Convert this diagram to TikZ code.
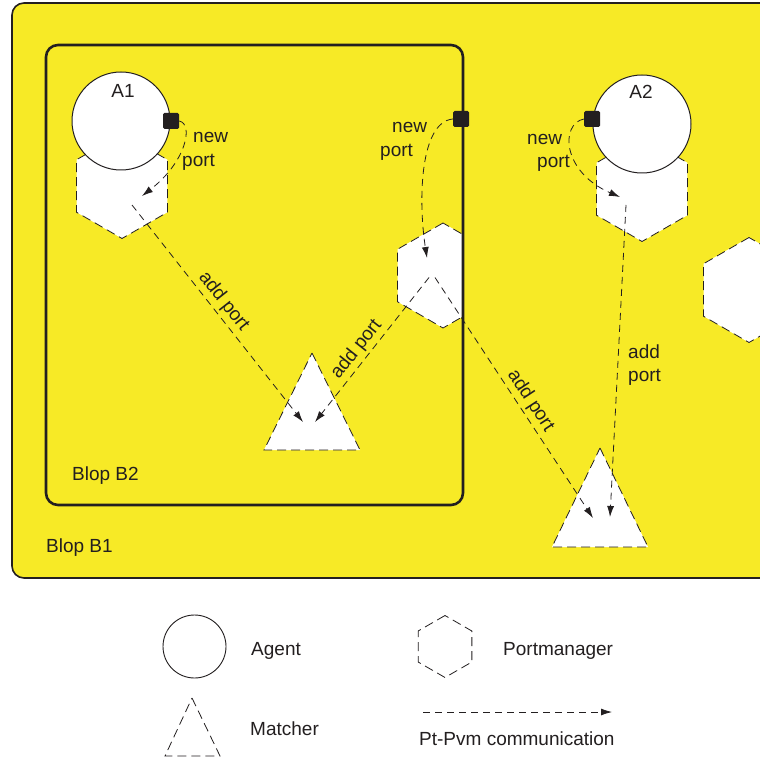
\documentclass[tikz,border=0pt]{standalone}
\usepackage{fontspec}
\setmainfont{Liberation Sans}
\usetikzlibrary{shapes.geometric,arrows.meta,calc}
\definecolor{blopyellow}{RGB}{247,234,38}
\definecolor{ink}{RGB}{35,31,32}
\begin{document}
\begin{tikzpicture}[x=1pt,y=-1pt,
  font=\fontsize{19}{22}\selectfont,
  agent/.style={circle, draw=ink, fill=white, line width=1pt, minimum size=98pt, inner sep=0pt},
  pm/.style={regular polygon, regular polygon sides=6, shape border rotate=30, draw=ink, fill=white, line width=0.8pt, dash pattern=on 9pt off 5pt, minimum size=105pt, inner sep=0pt},
  pmlegend/.style={regular polygon, regular polygon sides=6, shape border rotate=30, draw=ink, line width=0.8pt, dash pattern=on 9pt off 5pt, minimum size=62pt, inner sep=0pt},
  portsq/.style={rectangle, fill=ink, minimum size=16pt, inner sep=0pt, rounded corners=1.5pt},
  matcher/.style={draw=ink, fill=white, line width=0.8pt, dash pattern=on 9pt off 5pt},
  conn/.style={draw=ink, line width=0.8pt, dash pattern=on 7pt off 5pt, -{Latex[length=11pt,width=7pt]}},
  lbl/.style={anchor=base west, inner sep=0pt, text=ink},
  blop/.style={draw=ink, rounded corners=12pt}
]
\clip (0,0) rectangle (760,759);
\fill[white] (0,0) rectangle (760,759);

% Blop B1
\path[blop, fill=blopyellow, line width=1.6pt] (12,3) rectangle (800,578);

% portmanagers
\node[pm] (h1) at (122,186) {};
\node[pm] (h2) at (642,189) {};
\node[pm] (h4) at (749,290) {};
\begin{scope}
  \clip (0,0) rectangle (463,759);
  \node[pm] (h3) at (443,275.5) {};
\end{scope}

% Blop B2
\path[blop, line width=2.6pt] (46,45) rectangle (463,505);

% matchers
\path[matcher] (312,353) -- (360,450) -- (264,450) -- cycle;
\path[matcher] (600,448) -- (648,547) -- (552,547) -- cycle;
\coordinate (m1a) at (303,422);
\coordinate (m1b) at (315,422);
\coordinate (m2a) at (593,518);
\coordinate (m2b) at (610,517);

% agents
\node[agent] (a1) at (121,121) {};
\node[agent] (a2) at (642,124) {};
\node[lbl, anchor=base] (a1t) at (123,98) {A1};
\node[lbl, anchor=base] (a2t) at (641,99) {A2};

% ports
\node[portsq] (p1) at (171,121) {};
\node[portsq] (p2) at (461,119) {};
\node[portsq] (p3) at (592,119) {};

% arrow tips in portmanagers
\coordinate (t1) at (142,196);
\coordinate (t2) at (427,258);
\coordinate (t3) at (620,197);

% communications
\draw[conn] (p1.east) .. controls (194,124) and (186,162) .. (t1);
\draw[conn] (p2.west) .. controls (420,122) and (418,200) .. (t2);
\draw[conn] (p3.west) .. controls (560,124) and (562,172) .. (t3);

\draw[conn] ($(h1.center)+(10,19)$) -- node[pos=0.48, sloped, above, inner sep=3pt, text=ink] (l1) {add port} (m1a);
\draw[conn] ($(h3.center)+(-14,2)$) -- node[pos=0.55, sloped, above, inner sep=3pt, text=ink] (l2) {add port} (m1b);
\draw[conn] ($(h3.center)+(-8,2)$) -- node[pos=0.54, sloped, above, inner sep=3pt, text=ink] (l3) {add port} (m2a);
\draw[conn] ($(h2.center)+(-16,16)$) -- (m2b);
\node[lbl] (l4a) at (628,358) {add};
\node[lbl] (l4b) at (628,381) {port};

% new port labels
\node[lbl] (n1a) at (193,143) {new};
\node[lbl] (n1b) at (182,167) {port};
\node[lbl] (n2a) at (392,133) {new};
\node[lbl] (n2b) at (380,157) {port};
\node[lbl] (n3a) at (527,145) {new};
\node[lbl] (n3b) at (537,168) {port};

% blop labels
\node[lbl] (b2t) at (72,480) {Blop B2};
\node[lbl] (b1t) at (46,552) {Blop B1};

% legend
\node[circle, draw=ink, line width=0.9pt, minimum size=63pt, inner sep=0pt] (la) at (194.5,646.5) {};
\node[lbl] (lat) at (251,655) {Agent};
\node[pmlegend] (lh) at (445,646.5) {};
\node[lbl] (lht) at (503,655) {Portmanager};
\path[draw=ink, line width=0.8pt, dash pattern=on 9pt off 5pt] (192,698) -- (220,756) -- (165,756) -- cycle;
\coordinate (lm) at (192,727);
\node[lbl] (lmt) at (250,735) {Matcher};
\coordinate (lc1) at (423,712);
\coordinate (lc2) at (612,712);
\draw[conn] (lc1) -- (lc2);
\node[lbl] (lct) at (419,745) {Pt-Pvm communication};
\end{tikzpicture}
\end{document}
